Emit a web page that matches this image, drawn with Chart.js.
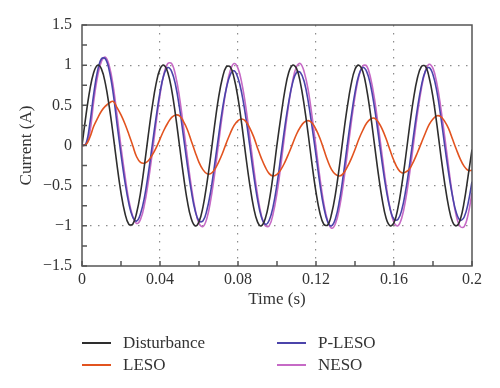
<!DOCTYPE html>
<html>
<head>
<meta charset="utf-8">
<script src="https://cdn.jsdelivr.net/npm/chart.js@4.4.1/dist/chart.umd.min.js"></script>
<style>
	html, body { margin: 0; padding: 0; background: #fff; }
	#wrap { position: relative; width: 500px; height: 388px; }
	#legend { position: absolute; left: 0; top: 0; width: 500px; height: 388px; pointer-events: none;
		font-family: "Liberation Serif", "DejaVu Serif", serif; font-size: 17px; color: #333; }
	.item { position: absolute; height: 20px; line-height: 20px; white-space: nowrap; }
	.item .ln { position: absolute; left: 0; top: 9px; width: 29px; height: 2px; }
	.item .tx { position: absolute; left: 41px; top: 0; }
</style>
</head>
<body>
<div id="wrap"><canvas id="myChart"></canvas><div id="legend"></div></div>
<script>
/* globals Chart:false */
// time axis (s), one sample every 2 ms
const times = [
	0, 0.002, 0.004, 0.006, 0.008, 0.01, 0.012, 0.014, 0.016, 0.018,
	0.02, 0.022, 0.024, 0.026, 0.028, 0.03, 0.032, 0.034, 0.036, 0.038,
	0.04, 0.042, 0.044, 0.046, 0.048, 0.05, 0.052, 0.054, 0.056, 0.058,
	0.06, 0.062, 0.064, 0.066, 0.068, 0.07, 0.072, 0.074, 0.076, 0.078,
	0.08, 0.082, 0.084, 0.086, 0.088, 0.09, 0.092, 0.094, 0.096, 0.098,
	0.1, 0.102, 0.104, 0.106, 0.108, 0.11, 0.112, 0.114, 0.116, 0.118,
	0.12, 0.122, 0.124, 0.126, 0.128, 0.13, 0.132, 0.134, 0.136, 0.138,
	0.14, 0.142, 0.144, 0.146, 0.148, 0.15, 0.152, 0.154, 0.156, 0.158,
	0.16, 0.162, 0.164, 0.166, 0.168, 0.17, 0.172, 0.174, 0.176, 0.178,
	0.18, 0.182, 0.184, 0.186, 0.188, 0.19, 0.192, 0.194, 0.196, 0.198,
	0.2,
];

const disturbance = [
	0, 0.37, 0.69, 0.91, 1.00, 0.95, 0.77, 0.48, 0.13, -0.25,
	-0.59, -0.84, -0.98, -0.98, -0.84, -0.59, -0.25, 0.13, 0.48, 0.77,
	0.95, 1.00, 0.91, 0.69, 0.37, 0, -0.37, -0.69, -0.91, -1.00,
	-0.95, -0.77, -0.48, -0.13, 0.25, 0.59, 0.84, 0.98, 0.98, 0.84,
	0.59, 0.25, -0.13, -0.48, -0.77, -0.95, -1.00, -0.91, -0.69, -0.37,
	0.01, 0.36, 0.68, 0.91, 1.00, 0.96, 0.78, 0.49, 0.14, -0.24,
	-0.58, -0.84, -0.98, -0.99, -0.85, -0.60, -0.26, 0.12, 0.47, 0.76,
	0.95, 1.00, 0.92, 0.70, 0.38, 0.01, -0.36, -0.68, -0.91, -1.00,
	-0.96, -0.78, -0.49, -0.14, 0.24, 0.58, 0.84, 0.98, 0.99, 0.85,
	0.60, 0.26, -0.12, -0.47, -0.76, -0.95, -1.00, -0.92, -0.70, -0.38,
	-0.05,
];

const leso = [
	0, 0.01, 0.10, 0.24, 0.34, 0.43, 0.49, 0.53, 0.55, 0.47,
	0.38, 0.27, 0.14, 0.00, -0.14, -0.21, -0.22, -0.19, -0.12, -0.03,
	0.08, 0.19, 0.28, 0.35, 0.38, 0.37, 0.30, 0.20, 0.06, -0.08,
	-0.21, -0.30, -0.35, -0.35, -0.30, -0.21, -0.10, 0.03, 0.15, 0.25,
	0.31, 0.33, 0.30, 0.22, 0.11, -0.03, -0.16, -0.27, -0.35, -0.38,
	-0.36, -0.30, -0.21, -0.10, 0.02, 0.14, 0.23, 0.29, 0.31, 0.28,
	0.20, 0.09, -0.05, -0.19, -0.30, -0.36, -0.38, -0.35, -0.27, -0.17,
	-0.05, 0.08, 0.19, 0.28, 0.33, 0.34, 0.29, 0.20, 0.08, -0.06,
	-0.19, -0.29, -0.34, -0.33, -0.29, -0.20, -0.09, 0.03, 0.15, 0.26,
	0.33, 0.37, 0.36, 0.30, 0.21, 0.08, -0.05, -0.17, -0.26, -0.31,
	-0.31,
];

const pLeso = [
	0, 0.02, 0.27, 0.64, 0.93, 1.08, 1.08, 0.93, 0.65, 0.26,
	-0.11, -0.45, -0.72, -0.89, -0.94, -0.85, -0.65, -0.35, 0.00, 0.35,
	0.66, 0.88, 0.97, 0.92, 0.75, 0.47, 0.12, -0.24, -0.56, -0.81,
	-0.94, -0.94, -0.81, -0.57, -0.24, 0.11, 0.45, 0.71, 0.88, 0.93,
	0.84, 0.64, 0.35, 0.00, -0.36, -0.67, -0.89, -0.98, -0.93, -0.76,
	-0.48, -0.13, 0.23, 0.54, 0.78, 0.91, 0.91, 0.79, 0.55, 0.23,
	-0.12, -0.48, -0.77, -0.95, -1.00, -0.91, -0.69, -0.37, 0.00, 0.35,
	0.66, 0.88, 0.97, 0.92, 0.75, 0.47, 0.13, -0.23, -0.55, -0.79,
	-0.92, -0.92, -0.80, -0.56, -0.24, 0.12, 0.46, 0.74, 0.92, 0.97,
	0.88, 0.67, 0.36, 0.00, -0.34, -0.63, -0.84, -0.93, -0.89, -0.72,
	-0.45,
];

const neso = [
	0, 0.01, 0.16, 0.55, 0.86, 1.05, 1.10, 0.99, 0.74, 0.37,
	-0.02, -0.37, -0.68, -0.88, -0.97, -0.92, -0.74, -0.45, -0.10, 0.28,
	0.63, 0.89, 1.02, 1.02, 0.87, 0.60, 0.24, -0.14, -0.50, -0.79,
	-0.97, -1.01, -0.91, -0.68, -0.36, 0.02, 0.39, 0.71, 0.93, 1.02,
	0.96, 0.77, 0.48, 0.11, -0.27, -0.61, -0.87, -1.00, -1.00, -0.85,
	-0.59, -0.24, 0.15, 0.51, 0.80, 0.98, 1.02, 0.91, 0.69, 0.36,
	-0.02, -0.40, -0.72, -0.94, -1.03, -0.97, -0.78, -0.48, -0.11, 0.27,
	0.61, 0.86, 0.99, 0.99, 0.84, 0.58, 0.23, -0.14, -0.50, -0.78,
	-0.96, -1.00, -0.90, -0.67, -0.35, 0.02, 0.39, 0.70, 0.92, 1.01,
	0.96, 0.77, 0.47, 0.11, -0.27, -0.62, -0.88, -1.01, -1.01, -0.86,
	-0.59,
];

const seriesNames = ["Disturbance", "LESO", "P-LESO", "NESO"];
const seriesColors = ["#2e2e2e", "#e2531f", "#4b44aa", "#c66ac6"];
const xTicks = [0, 0.04, 0.08, 0.12, 0.16, 0.2];
const yTicks = [-1.5, -1, -0.5, 0, 0.5, 1, 1.5];

(() => {
	"use strict";

	const allSeries = [disturbance, leso, pLeso, neso];
	const serif = "'Liberation Serif', 'DejaVu Serif', serif";
	const tickFont = { family: serif, size: 16 };
	const titleFont = { family: serif, size: 17 };
	const dotted = "#8c8c8c";

	// frame + inward tick marks (major and minor)
	const framePlugin = {
		id: "frame",
		afterDraw(chart) {
			const { ctx, chartArea: a, scales } = chart;
			ctx.save();
			ctx.strokeStyle = "#555";
			ctx.lineWidth = 1.5;
			ctx.beginPath();
			const mid = (arr) => arr.slice(1).map((v, i) => (v + arr[i]) / 2);
			xTicks.concat(mid(xTicks)).forEach((v) => {
				const px = scales.x.getPixelForValue(v);
				ctx.moveTo(px, a.bottom);
				ctx.lineTo(px, a.bottom - 5);
			});
			yTicks.concat(mid(yTicks)).forEach((v) => {
				const py = scales.y.getPixelForValue(v);
				ctx.moveTo(a.left, py);
				ctx.lineTo(a.left + 5, py);
			});
			ctx.stroke();
			ctx.strokeRect(a.left, a.top, a.right - a.left, a.bottom - a.top);
			ctx.restore();
		},
	};

	const ctx = document.getElementById("myChart");
	// eslint-disable-next-line no-unused-vars
	const myChart = new Chart(ctx, {
		type: "line",
		data: {
			datasets: allSeries.map((s, i) => ({
				label: seriesNames[i],
				data: times.map((t, k) => ({ x: t, y: s[k] })),
				borderColor: seriesColors[i],
				backgroundColor: "transparent",
				borderWidth: 1.6,
				pointRadius: 0,
				tension: 0.4,
			})),
		},
		options: {
			responsive: true,
			maintainAspectRatio: false,
			animation: false,
			layout: { padding: { left: 0, top: 25, right: 28, bottom: 72 } },
			plugins: {
				legend: { display: false },
				tooltip: { enabled: false },
			},
			scales: {
				x: {
					type: "linear",
					min: 0,
					max: 0.2,
					afterBuildTicks: (s) => { s.ticks = xTicks.map((v) => ({ value: v })); },
					afterFit: (s) => { s.height = 50; },
					grid: {
						drawTicks: false,
						lineWidth: 1.2,
						color: (c) => (c.tick && (c.tick.value === 0 || c.tick.value === 0.2) ? "transparent" : dotted),
					},
					border: { display: false, dash: [1.5, 6.5] },
					ticks: { padding: 4, font: tickFont, color: "#333", maxRotation: 0, callback: (v) => String(v) },
					title: { display: true, text: "Time (s)", font: titleFont, color: "#333", padding: { top: 0, bottom: 6 } },
				},
				y: {
					min: -1.5,
					max: 1.5,
					afterBuildTicks: (s) => { s.ticks = yTicks.map((v) => ({ value: v })); },
					afterFit: (s) => { s.width = 82; },
					grid: {
						drawTicks: false,
						lineWidth: 1.2,
						color: (c) => (c.tick && Math.abs(c.tick.value) === 1.5 ? "transparent" : dotted),
					},
					border: { display: false, dash: [1.5, 6.5] },
					ticks: { padding: 10, font: tickFont, color: "#333", callback: (v) => String(v).replace("-", "\u2212") },
					title: { display: true, text: "Current (A)", font: titleFont, color: "#333", padding: { top: 16, bottom: 0 } },
				},
			},
		},
		plugins: [framePlugin],
	});

	// two-column legend under the plot
	const legendSlots = [[82, 333], [82, 355], [277, 333], [277, 355]];
	const legend = document.getElementById("legend");
	seriesNames.forEach((name, i) => {
		const item = document.createElement("div");
		item.className = "item";
		item.style.left = legendSlots[i][0] + "px";
		item.style.top = legendSlots[i][1] + "px";
		item.innerHTML = '<span class="ln" style="background:' + seriesColors[i] + '"></span><span class="tx">' + name + "</span>";
		legend.appendChild(item);
	});
})();
</script>
</body>
</html>
